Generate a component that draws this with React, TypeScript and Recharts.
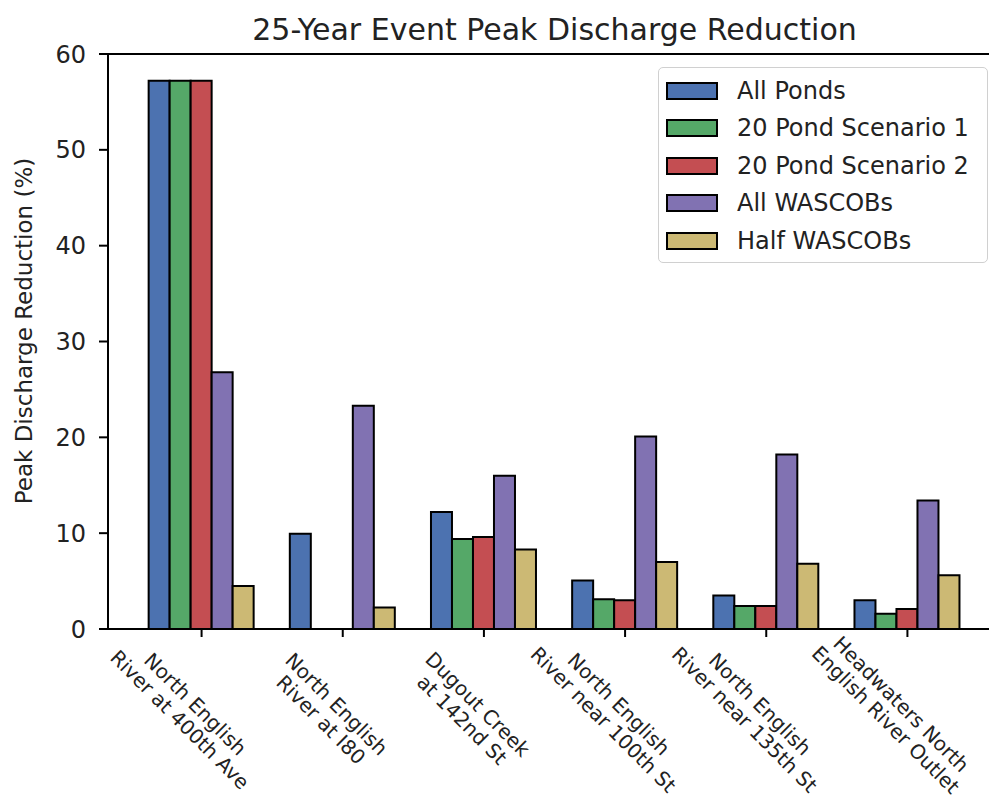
import { BarChart, Bar, XAxis, YAxis, Legend, ReferenceLine } from "recharts";

const sites = [
  "North English\nRiver at 400th Ave",
  "North English\nRiver at I80",
  "Dugout Creek\nat 142nd St",
  "North English\nRiver near 100th St",
  "North English\nRiver near 135th St",
  "Headwaters North\nEnglish River Outlet",
];
const seriesNames = ["All Ponds", "20 Pond Scenario 1", "20 Pond Scenario 2", "All WASCOBs", "Half WASCOBs"];
const allPonds = [57.2, 9.95, 12.2, 5.05, 3.5, 3.0];
const pondScenario1 = [57.2, 0, 9.4, 3.1, 2.4, 1.6];
const pondScenario2 = [57.2, 0, 9.6, 3.0, 2.4, 2.1];
const allWascobs = [26.8, 23.3, 16.0, 20.1, 18.2, 13.4];
const halfWascobs = [4.5, 2.25, 8.3, 7.0, 6.8, 5.6];
const yTicks = [0, 10, 20, 30, 40, 50, 60];

const data = sites.map((site, i) => ({
  site,
  allPonds: allPonds[i],
  pondScenario1: pondScenario1[i],
  pondScenario2: pondScenario2[i],
  allWascobs: allWascobs[i],
  halfWascobs: halfWascobs[i],
}));

const FONT = "'DejaVu Sans', sans-serif";
const TEXT = "#222";

function SiteTick(props: any) {
  const { x, y, payload } = props;
  const lines = String(payload.value).split("\n");
  return (
    <g transform={`translate(${x - 14},${y + 75}) rotate(45)`}>
      {lines.map((line: string, i: number) => (
        <text
          key={i}
          x={0}
          y={(i - (lines.length - 1) / 2) * 22}
          dy="0.35em"
          textAnchor="middle"
          fontSize={20}
          fontFamily={FONT}
          fill={TEXT}
        >
          {line}
        </text>
      ))}
    </g>
  );
}

function LegendBox(props: any) {
  // keep the legend in series order (recharts sorts by name otherwise)
  const items = [...(props.payload || [])].sort(
    (a: any, b: any) => seriesNames.indexOf(a.value) - seriesNames.indexOf(b.value)
  );
  return (
    <div
      style={{
        border: "1.5px solid #d0d0d0",
        borderRadius: 5,
        background: "rgba(255,255,255,0.8)",
        padding: "4px 0 6px 7px",
        boxSizing: "border-box",
        width: 330,
        height: 196,
        fontFamily: FONT,
        fontSize: 24,
        color: TEXT,
      }}
    >
      {items.map((it: any) => (
        <div key={it.value} style={{ display: "flex", alignItems: "center", height: 37.5 }}>
          <div
            style={{
              width: 52,
              height: 18,
              background: it.color,
              border: "2px solid #000",
              boxSizing: "border-box",
              marginRight: 19,
            }}
          />
          <span style={{ lineHeight: "24px" }}>{it.value}</span>
        </div>
      ))}
    </div>
  );
}

export default function App() {
  return (
    <div
      style={{
        position: "absolute",
        left: 0,
        top: 0,
        width: 989,
        height: 797,
        overflow: "hidden",
        background: "#fff",
      }}
    >
      <BarChart
        width={1010}
        height={797}
        data={data}
        margin={{ top: 54, right: 9, left: 8, bottom: 8 }}
        barCategoryGap="12.5%"
        barGap={0}
      >
        <XAxis
          dataKey="site"
          height={160}
          interval={0}
          padding={{ left: 23, right: 23 }}
          tick={<SiteTick />}
          tickSize={8}
          tickMargin={0}
          axisLine={{ stroke: "#000", strokeWidth: 2 }}
          tickLine={{ stroke: "#000", strokeWidth: 2 }}
        />
        <YAxis
          width={100}
          domain={[0, 60]}
          ticks={yTicks}
          tickSize={9}
          tickMargin={13}
          axisLine={{ stroke: "#000", strokeWidth: 2 }}
          tickLine={{ stroke: "#000", strokeWidth: 2 }}
          tick={{ fontSize: 24, fontFamily: FONT, fill: TEXT }}
          label={{
            content: () => (
              <text
                x={24}
                y={331}
                transform="rotate(-90 24 331)"
                textAnchor="middle"
                dominantBaseline="central"
                fontSize={23}
                fontFamily={FONT}
                fill={TEXT}
              >
                Peak Discharge Reduction (%)
              </text>
            ),
          }}
        />
        <ReferenceLine
          y={60}
          stroke="#000"
          strokeWidth={2}
          label={{
            value: "25-Year Event Peak Discharge Reduction",
            position: "top",
            offset: 14,
            fontSize: 30,
            fontFamily: FONT,
            fill: TEXT,
          }}
        />
        <Legend
          layout="horizontal"
          verticalAlign="middle"
          align="center"
          content={<LegendBox />}
          wrapperStyle={{ left: 658, top: 67, width: 330, height: 196 }}
        />
        <Bar dataKey="allPonds" name={seriesNames[0]} fill="#4C72B0" stroke="#000" strokeWidth={2} isAnimationActive={false} />
        <Bar dataKey="pondScenario1" name={seriesNames[1]} fill="#55A868" stroke="#000" strokeWidth={2} isAnimationActive={false} />
        <Bar dataKey="pondScenario2" name={seriesNames[2]} fill="#C44E52" stroke="#000" strokeWidth={2} isAnimationActive={false} />
        <Bar dataKey="allWascobs" name={seriesNames[3]} fill="#8172B2" stroke="#000" strokeWidth={2} isAnimationActive={false} />
        <Bar dataKey="halfWascobs" name={seriesNames[4]} fill="#CCB974" stroke="#000" strokeWidth={2} isAnimationActive={false} />
      </BarChart>
    </div>
  );
}
